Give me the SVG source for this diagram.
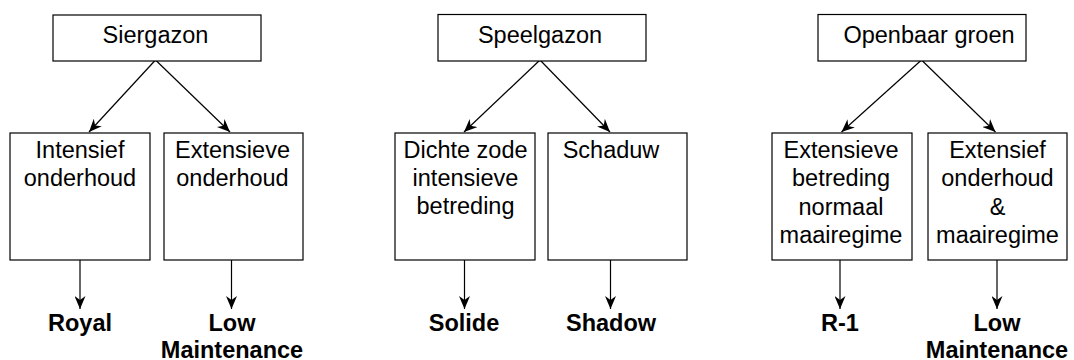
<svg xmlns="http://www.w3.org/2000/svg" width="1074" height="360" viewBox="0 0 1074 360">
<defs>
<marker id="arr" viewBox="0 0 13 11" refX="13" refY="5.5" markerWidth="13" markerHeight="11" markerUnits="userSpaceOnUse" orient="auto">
<path d="M0,0 L13,5.5 L0,11 L4,5.5 Z" fill="#000"/>
</marker>
<style>
.box{fill:#fff;stroke:#000;stroke-width:1.2}
.t{font-family:"Liberation Sans",Arial,Helvetica,sans-serif;font-size:23.5px;fill:#000;text-anchor:middle}
.b{font-family:"Liberation Sans",Arial,Helvetica,sans-serif;font-size:23.5px;font-weight:bold;fill:#000;text-anchor:middle}
.c{fill:none;stroke:#000;stroke-width:1.2;marker-end:url(#arr)}
</style>
</defs>
<rect width="1074" height="360" fill="#fff"/>
<g id="connectors">
<line class="c" x1="155.5" y1="60" x2="89" y2="132"/>
<line class="c" x1="155.5" y1="60" x2="230" y2="132"/>
<line class="c" x1="80" y1="260" x2="80" y2="309"/>
<line class="c" x1="231.5" y1="260" x2="231.5" y2="309"/>
<line class="c" x1="540" y1="60" x2="464" y2="132"/>
<line class="c" x1="540" y1="60" x2="610" y2="132"/>
<line class="c" x1="464.5" y1="260" x2="464.5" y2="309"/>
<line class="c" x1="610.5" y1="260" x2="610.5" y2="309"/>
<line class="c" x1="921.5" y1="60" x2="841.5" y2="132"/>
<line class="c" x1="921.5" y1="60" x2="995.5" y2="132"/>
<line class="c" x1="840" y1="260" x2="840" y2="309"/>
<line class="c" x1="997" y1="260" x2="997" y2="309"/>
</g>
<g id="siergazon"><rect class="box" x="53" y="15" width="208" height="46"/><text class="t" x="155.5" y="43">Siergazon</text></g>
<g id="intensief"><rect class="box" x="10" y="133" width="140" height="127"/><text class="t" x="80" y="158">Intensief</text><text class="t" x="80" y="186">onderhoud</text></g>
<g id="extensieve-onderhoud"><rect class="box" x="164" y="133" width="139" height="127"/><text class="t" x="232.5" y="158">Extensieve</text><text class="t" x="232.5" y="186">onderhoud</text></g>
<g id="royal"><text class="b" x="80" y="331">Royal</text></g>
<g id="low1"><text class="b" x="232" y="331">Low</text><text class="b" x="232" y="357.5">Maintenance</text></g>
<g id="speelgazon"><rect class="box" x="438" y="14.5" width="208" height="46.5"/><text class="t" x="540" y="43">Speelgazon</text></g>
<g id="dichte"><rect class="box" x="395" y="133" width="140" height="127"/><text class="t" x="465.5" y="158">Dichte zode</text><text class="t" x="465.5" y="186">intensieve</text><text class="t" x="465.5" y="214">betreding</text></g>
<g id="schaduw"><rect class="box" x="548" y="133" width="139" height="127"/><text class="t" x="611" y="158">Schaduw</text></g>
<g id="solide"><text class="b" x="464" y="331">Solide</text></g>
<g id="shadow"><text class="b" x="611" y="331">Shadow</text></g>
<g id="openbaar"><rect class="box" x="818" y="14.5" width="208" height="46.5"/><text class="t" x="929" y="43">Openbaar groen</text></g>
<g id="extensieve-betreding"><rect class="box" x="772" y="133" width="140" height="127"/><text class="t" x="841" y="157.5">Extensieve</text><text class="t" x="841" y="186">betreding</text><text class="t" x="841" y="214.5">normaal</text><text class="t" x="841" y="243">maairegime</text></g>
<g id="extensief-onderhoud"><rect class="box" x="928" y="133" width="139" height="127"/><text class="t" x="997.5" y="157.5">Extensief</text><text class="t" x="997.5" y="186">onderhoud</text><text class="t" x="997.5" y="214.5">&amp;</text><text class="t" x="997.5" y="243">maairegime</text></g>
<g id="r1"><text class="b" x="840" y="331">R-1</text></g>
<g id="low2"><text class="b" x="997" y="331">Low</text><text class="b" x="997" y="357.5">Maintenance</text></g>
</svg>
